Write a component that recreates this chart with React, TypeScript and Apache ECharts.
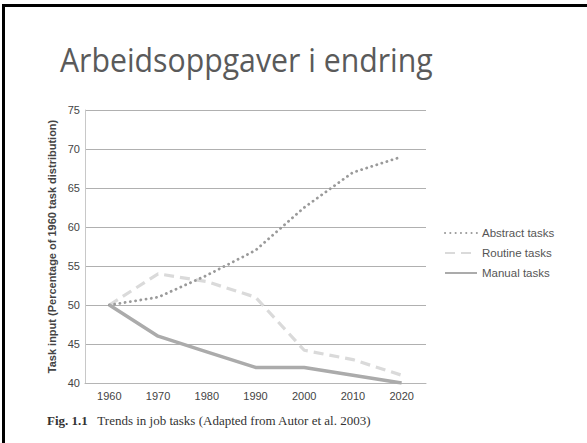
import React, { useEffect, useRef } from "react";
import * as echarts from "echarts";

const years = ["1960", "1970", "1980", "1990", "2000", "2010", "2020"];
const abstractTasks = [50, 51, 53.8, 57, 62.5, 67, 69];
const routineTasks = [50, 54, 53, 51, 44.2, 43, 41];
const manualTasks = [50, 46, 44, 42, 42, 41, 40];
const yTicks = { min: 40, max: 75, interval: 5 };

export default function App() {
  const ref = useRef<HTMLDivElement>(null);
  useEffect(() => {
    const chart = echarts.init(ref.current!, null, { renderer: "svg" });
    chart.setOption({
      animation: false,
      backgroundColor: "#ffffff",
      grid: { left: 85, right: 161, top: 110, bottom: 60 },
      legend: {
        orient: "vertical",
        left: 439,
        top: 222,
        itemWidth: 32,
        itemHeight: 10,
        itemGap: 8,
        itemStyle: { opacity: 0 },
        textStyle: { color: "#555", fontSize: 11.5, fontFamily: "Liberation Sans, Arial, sans-serif" },
        data: ["Abstract tasks", "Routine tasks", "Manual tasks"],
      },
      xAxis: {
        type: "category",
        data: years,
        boundaryGap: true,
        axisLine: { lineStyle: { color: "#b5b5b5", width: 1 } },
        axisTick: { show: false },
        axisLabel: { color: "#444", fontSize: 11, margin: 7, fontFamily: "Liberation Sans, Arial, sans-serif" },
      },
      yAxis: {
        type: "value",
        min: yTicks.min,
        max: yTicks.max,
        interval: yTicks.interval,
        name: "Task input (Percentage of 1960 task distribution)",
        nameLocation: "middle",
        nameGap: 28,
        nameMoveOverlap: false,
        nameTextStyle: { color: "#444", fontSize: 11, fontWeight: "bold", fontFamily: "Liberation Sans, Arial, sans-serif" },
        axisLine: { show: true, lineStyle: { color: "#c8c8c8", width: 1 } },
        axisTick: { show: false },
        axisLabel: { color: "#444", fontSize: 11, margin: 5, fontFamily: "Liberation Sans, Arial, sans-serif" },
        splitLine: { lineStyle: { color: "#b0b0b0", width: 1 } },
      },
      series: [
        {
          name: "Abstract tasks",
          type: "line",
          data: abstractTasks,
          symbol: "none",
          lineStyle: { color: "#9a9a9a", width: 2.8, type: [0.1, 5.2], cap: "round" },
          itemStyle: { color: "#9a9a9a" },
          z: 3,
        },
        {
          name: "Routine tasks",
          type: "line",
          data: routineTasks,
          symbol: "none",
          lineStyle: { color: "#dadada", width: 3.2, type: [10, 6] },
          itemStyle: { color: "#dadada" },
          z: 2,
        },
        {
          name: "Manual tasks",
          type: "line",
          data: manualTasks,
          symbol: "none",
          lineStyle: { color: "#ababab", width: 3.5 },
          itemStyle: { color: "#ababab" },
          z: 4,
        },
      ],
      graphic: [
        {
          type: "text",
          x: 60,
          y: 44,
          style: {
            text: "Arbeidsoppgaver i endring",
            fill: "#5a5a5a",
            font: '32px "Open Sans", sans-serif',
          },
          scaleX: 0.945,
        },
        {
          type: "text",
          x: 47,
          y: 414,
          style: {
            text: "{b|Fig. 1.1}   Trends in job tasks (Adapted from Autor et al. 2003)",
            fill: "#333",
            font: '13px "Liberation Serif", "Times New Roman", serif',
            rich: {
              b: { fontWeight: "bold", fontSize: 13, fontFamily: "Liberation Serif, serif", fill: "#333" },
            },
          },
        },
      ],
    });
    return () => chart.dispose();
  }, []);
  return (
    <div style={{ position: "absolute", left: 0, top: 0, width: 587, height: 443, overflow: "hidden" }}>
      <div ref={ref} style={{ width: 587, height: 443, position: "absolute", left: 0, top: 0 }} />
      <div style={{ position: "absolute", left: 2, top: 4, width: 640, height: 3, background: "#000" }} />
      <div style={{ position: "absolute", left: 2, top: 4, width: 3, height: 500, background: "#000" }} />
    </div>
  );
}
